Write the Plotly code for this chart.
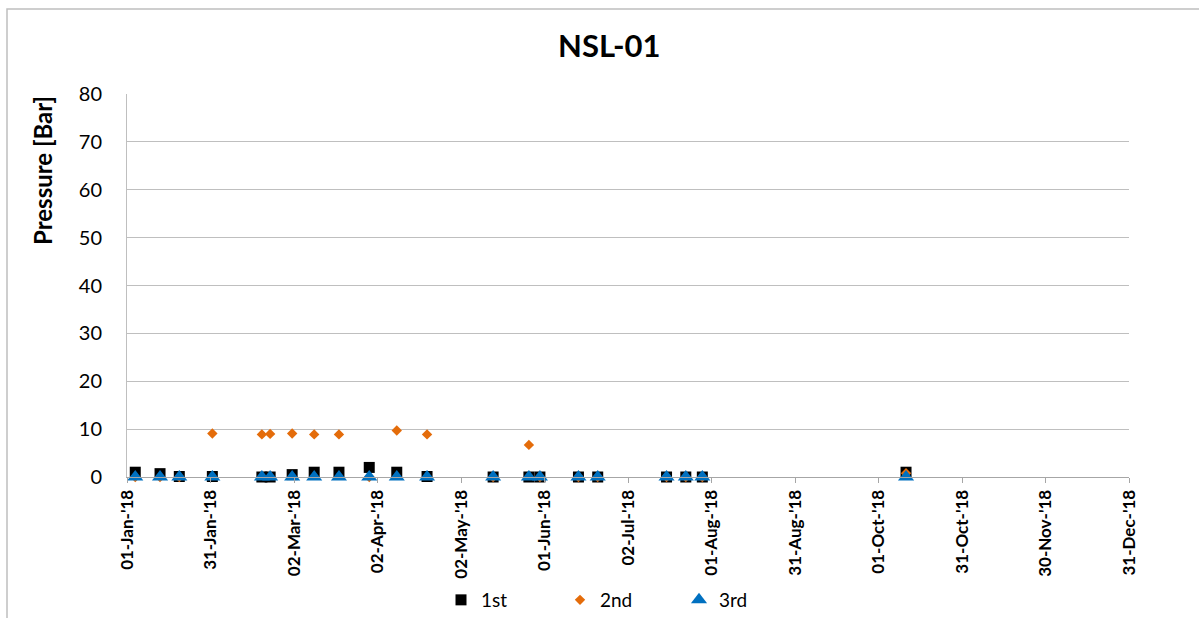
import plotly.graph_objects as go
import pandas as pd

dates = ['2018-01-04', '2018-01-13', '2018-01-20', '2018-02-01', '2018-02-19', '2018-02-22',
         '2018-03-02', '2018-03-10', '2018-03-19', '2018-03-30', '2018-04-09', '2018-04-20',
         '2018-05-14', '2018-05-27', '2018-05-31', '2018-06-14', '2018-06-21', '2018-07-16',
         '2018-07-23', '2018-07-29', '2018-10-11']
first = [1.0, 0.7, 0.1, 0.1, 0.0, 0.0, 0.5, 1.0, 1.0, 2.0, 1.0, 0.1,
         0.0, 0.0, 0.0, 0.0, 0.0, 0.0, 0.0, 0.0, 1.0]
second = [0.0, 0.0, 0.0, 9.1, 8.9, 9.0, 9.1, 8.9, 8.9, 0.0, 9.7, 8.9,
          0.0, 6.7, 0.0, 0.0, 0.0, 0.0, 0.0, 0.0, 0.8]
third = [0.0] * 21

tick_text = ["01-Jan-'18", "31-Jan-'18", "02-Mar-'18", "02-Apr-'18", "02-May-'18", "01-Jun-'18",
             "02-Jul-'18", "01-Aug-'18", "31-Aug-'18", "01-Oct-'18", "31-Oct-'18", "30-Nov-'18",
             "31-Dec-'18"]
start = pd.Timestamp('2018-01-01')
tick_vals = [start + pd.Timedelta(days=364 / 12 * k) for k in range(len(tick_text))]

FONT = "Lato"
fig = go.Figure()
fig.add_trace(go.Scatter(x=dates, y=first, mode="markers", name="1st", cliponaxis=False,
                         marker=dict(symbol="square", size=11, color="#000000")))
fig.add_trace(go.Scatter(x=dates, y=second, mode="markers", name="2nd", cliponaxis=False,
                         marker=dict(symbol="diamond", size=8, color="#E46C0A")))
fig.add_trace(go.Scatter(x=dates, y=third, mode="markers", name="3rd", cliponaxis=False,
                         marker=dict(symbol="triangle-up", size=14, color="#0070C0")))

W, H = 1199, 618
L, R, T, B = 127, 1129, 94, 477
pw, ph = R - L, B - T

def px(x):
    return (x - L) / pw

def py(y):
    return (B - y) / ph

fig.update_layout(
    width=W, height=H,
    margin=dict(l=L, r=W - R, t=T, b=H - B, autoexpand=False),
    paper_bgcolor="white", plot_bgcolor="white",
    font=dict(family=FONT, color="#000000"),
    showlegend=True,
    legend=dict(orientation="h", x=px(441), xanchor="left", y=py(600), yanchor="middle",
                font=dict(size=19, family=FONT), entrywidth=74, entrywidthmode="pixels",
                itemwidth=30, bgcolor="rgba(0,0,0,0)"),
    xaxis=dict(type="date", range=['2018-01-01', '2018-12-31'], tickvals=tick_vals,
               ticktext=tick_text, tickangle=-90, showgrid=False, showline=True,
               linecolor="#A6A6A6", linewidth=1, ticks="outside", ticklen=5,
               tickcolor="#A6A6A6", tickfont=dict(size=17, family=FONT, weight="bold"),
               zeroline=False, automargin=False),
    yaxis=dict(range=[0, 80], dtick=10, showgrid=True, gridcolor="#BFBFBF", gridwidth=1,
               showline=True, linecolor="#BFBFBF", linewidth=1, ticks="",
               tickfont=dict(size=20, family=FONT), ticklabelstandoff=20, zeroline=False,
               automargin=False),
    annotations=[
        dict(text="<b>NSL-01</b>", x=px(609), y=py(45), xref="paper", yref="paper",
             showarrow=False, font=dict(size=31, family=FONT), xanchor="center", yanchor="middle"),
        dict(text="<b>Pressure [Bar]</b>", x=px(42), y=py(171), xref="paper", yref="paper",
             showarrow=False, textangle=-90, font=dict(size=24, family=FONT),
             xanchor="center", yanchor="middle"),
    ],
    shapes=[dict(type="rect", xref="paper", yref="paper", x0=px(7), x1=px(1215),
                 y0=py(640), y1=py(9), line=dict(color="#BFBFBF", width=1.5),
                 fillcolor="rgba(0,0,0,0)", layer="below")],
)

fig.write_html("out.html", config={"displayModeBar": False},
               post_script="document.body.style.margin='0px';document.body.style.overflow='hidden';")
